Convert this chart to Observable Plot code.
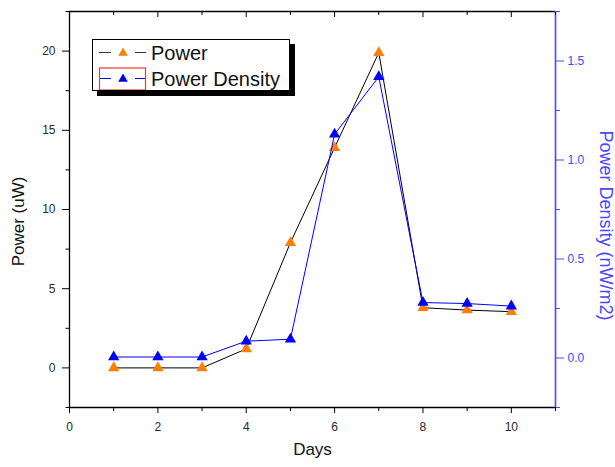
<!DOCTYPE html>
<html>
<head>
<meta charset="utf-8">
<script src="https://cdn.jsdelivr.net/npm/d3@7"></script>
<script src="https://cdn.jsdelivr.net/npm/@observablehq/plot@0.6"></script>
<style>
  body { margin: 0; background: #fff; }
  #wrap { position: relative; width: 615px; height: 467px; font-family: "Liberation Sans", Arial, sans-serif; }
  #legend { position: absolute; left: 92px; top: 39px; width: 198px; height: 52px; box-sizing: border-box;
            border: 1px solid #000; background: #fff; box-shadow: 5px 5px 0 #000; }
</style>
</head>
<body>
<div id="wrap"></div>
<script>
const days = [1, 2, 3, 4, 5, 6, 7, 8, 9, 10];
const power = [0, 0, 0, 1.2, 7.9, 13.9, 19.9, 3.8, 3.65, 3.55];
const density = [0.005, 0.005, 0.005, 0.085, 0.095, 1.13, 1.42, 0.28, 0.275, 0.262];

const xMajor = [0, 2, 4, 6, 8, 10];
const xMinor = [1, 3, 5, 7, 9, 11];
const yMajor = [0, 5, 10, 15, 20];
const yMinor = [-2.5, 2.5, 7.5, 12.5, 17.5, 22.5];
const dMajor = [0, 0.5, 1.0, 1.5];
const dMinor = [-0.25, 0.25, 0.75, 1.25, 1.75];

const seriesNames = ["Power", "Power Density"];
const xLabel = "Days";
const yLabel = "Power (uW)";
const y2Label = "Power Density (nW/m2)";

const yDomain = [-2.5, 22.5];
const dDomain = [-0.25, 1.75];
// map density onto the left scale
const toY = d => (d - dDomain[0]) / (dDomain[1] - dDomain[0]) * (yDomain[1] - yDomain[0]) + yDomain[0];
const fromY = y => (y - yDomain[0]) / (yDomain[1] - yDomain[0]) * (dDomain[1] - dDomain[0]) + dDomain[0];

const rows = days.map((d, i) => ({day: d, power: power[i], density: density[i], dy: toY(density[i])}));

const ORANGE = "#ff8000";
const BLUE = "#0000ff";
const AXBLUE = "#4848ff";
const TXT = "#2a2a2a";
const font = "Liberation Sans, Arial, sans-serif";

const chart = Plot.plot({
  width: 615,
  height: 467,
  marginLeft: 69,
  marginRight: 60,
  marginTop: 11,
  marginBottom: 60,
  style: {fontFamily: font, fontSize: "12px", background: "#fff", overflow: "visible"},
  x: {domain: [0, 11]},
  y: {domain: yDomain},
  marks: [
    // frame
    Plot.ruleY([yDomain[0], yDomain[1]], {stroke: "#000", strokeWidth: 1.3}),
    Plot.ruleX([0], {stroke: "#000", strokeWidth: 1.3}),
    Plot.ruleX([11], {stroke: AXBLUE, strokeWidth: 1.6}),
    // bottom axis
    Plot.axisX(xMajor, {anchor: "bottom", tickSize: 6, tickPadding: 9, label: null, fill: TXT, stroke: "#000", fontSize: 12}),
    Plot.axisX(xMinor, {anchor: "bottom", tickSize: 4, tickFormat: () => "", label: null, stroke: "#000"}),
    // top inward ticks
    Plot.axisX(xMajor, {anchor: "top", tickSize: -5, tickFormat: () => "", label: null, stroke: "#000"}),
    Plot.axisX(xMinor, {anchor: "top", tickSize: -3, tickFormat: () => "", label: null, stroke: "#000"}),
    // left axis
    Plot.axisY(yMajor, {anchor: "left", tickSize: 7, tickPadding: 7, label: null, fill: TXT, stroke: "#000", fontSize: 12}),
    Plot.axisY(yMinor, {anchor: "left", tickSize: 3.5, tickFormat: () => "", label: null, stroke: "#000"}),
    // right axis (power density)
    Plot.axisY(dMajor.map(toY), {anchor: "right", tickSize: 8, tickPadding: 4, label: null,
      tickFormat: y => d3.format(".1f")(fromY(y)), fill: AXBLUE, stroke: AXBLUE, fontSize: 12}),
    Plot.axisY(dMinor.map(toY), {anchor: "right", tickSize: 4, tickFormat: () => "", label: null, stroke: AXBLUE}),
    // axis titles
    Plot.text([xLabel], {frameAnchor: "bottom", textAnchor: "middle", dy: 47, fontSize: 17, fill: "#111"}),
    Plot.text([yLabel], {frameAnchor: "left", textAnchor: "middle", dx: -51, dy: 12, rotate: -90, fontSize: 17, fill: "#111"}),
    Plot.text([y2Label], {frameAnchor: "right", textAnchor: "middle", dx: 50, dy: 16, rotate: 90, fontSize: 18, fill: AXBLUE}),
    // series
    Plot.line(rows, {x: "day", y: "power", stroke: "#000", strokeWidth: 1}),
    Plot.dot(rows, {x: "day", y: "power", symbol: "triangle", r: 4.2, fill: ORANGE, stroke: null}),
    Plot.line(rows, {x: "day", y: "dy", stroke: BLUE, strokeWidth: 1}),
    Plot.dot(rows, {x: "day", y: "dy", symbol: "triangle", r: 4.2, fill: BLUE, stroke: null})
  ]
});

const wrap = document.getElementById("wrap");
wrap.appendChild(chart);

// legend
const legend = document.createElement("div");
legend.id = "legend";
wrap.appendChild(legend);
const lsvg = d3.select(legend).append("svg")
  .attr("width", 196).attr("height", 50)
  .style("position", "absolute").style("left", "0px").style("top", "0px");
const entries = [
  {name: seriesNames[0], line: "#333", fill: ORANGE},
  {name: seriesNames[1], line: BLUE, fill: BLUE}
];
const tri = d3.symbol(d3.symbolTriangle, 40)();
entries.forEach((e, i) => {
  const cy = 12.5 + i * 26;
  const g = lsvg.append("g");
  g.append("line").attr("x1", 6).attr("x2", 18).attr("y1", cy).attr("y2", cy).attr("stroke", e.line).attr("stroke-width", 1);
  g.append("line").attr("x1", 42).attr("x2", 53).attr("y1", cy).attr("y2", cy).attr("stroke", e.line).attr("stroke-width", 1);
  g.append("path").attr("d", tri).attr("transform", `translate(30,${cy + 0.5})`).attr("fill", e.fill);
  g.append("text").attr("x", 58).attr("y", cy).attr("dy", "0.36em")
    .attr("font-family", font).attr("font-size", 20).attr("fill", "#111").text(e.name);
});
lsvg.append("rect").attr("x", 6.5).attr("y", 28).attr("width", 46).attr("height", 22)
  .attr("fill", "none").attr("stroke", "#ff3030").attr("stroke-width", 1.2);
</script>
</body>
</html>
